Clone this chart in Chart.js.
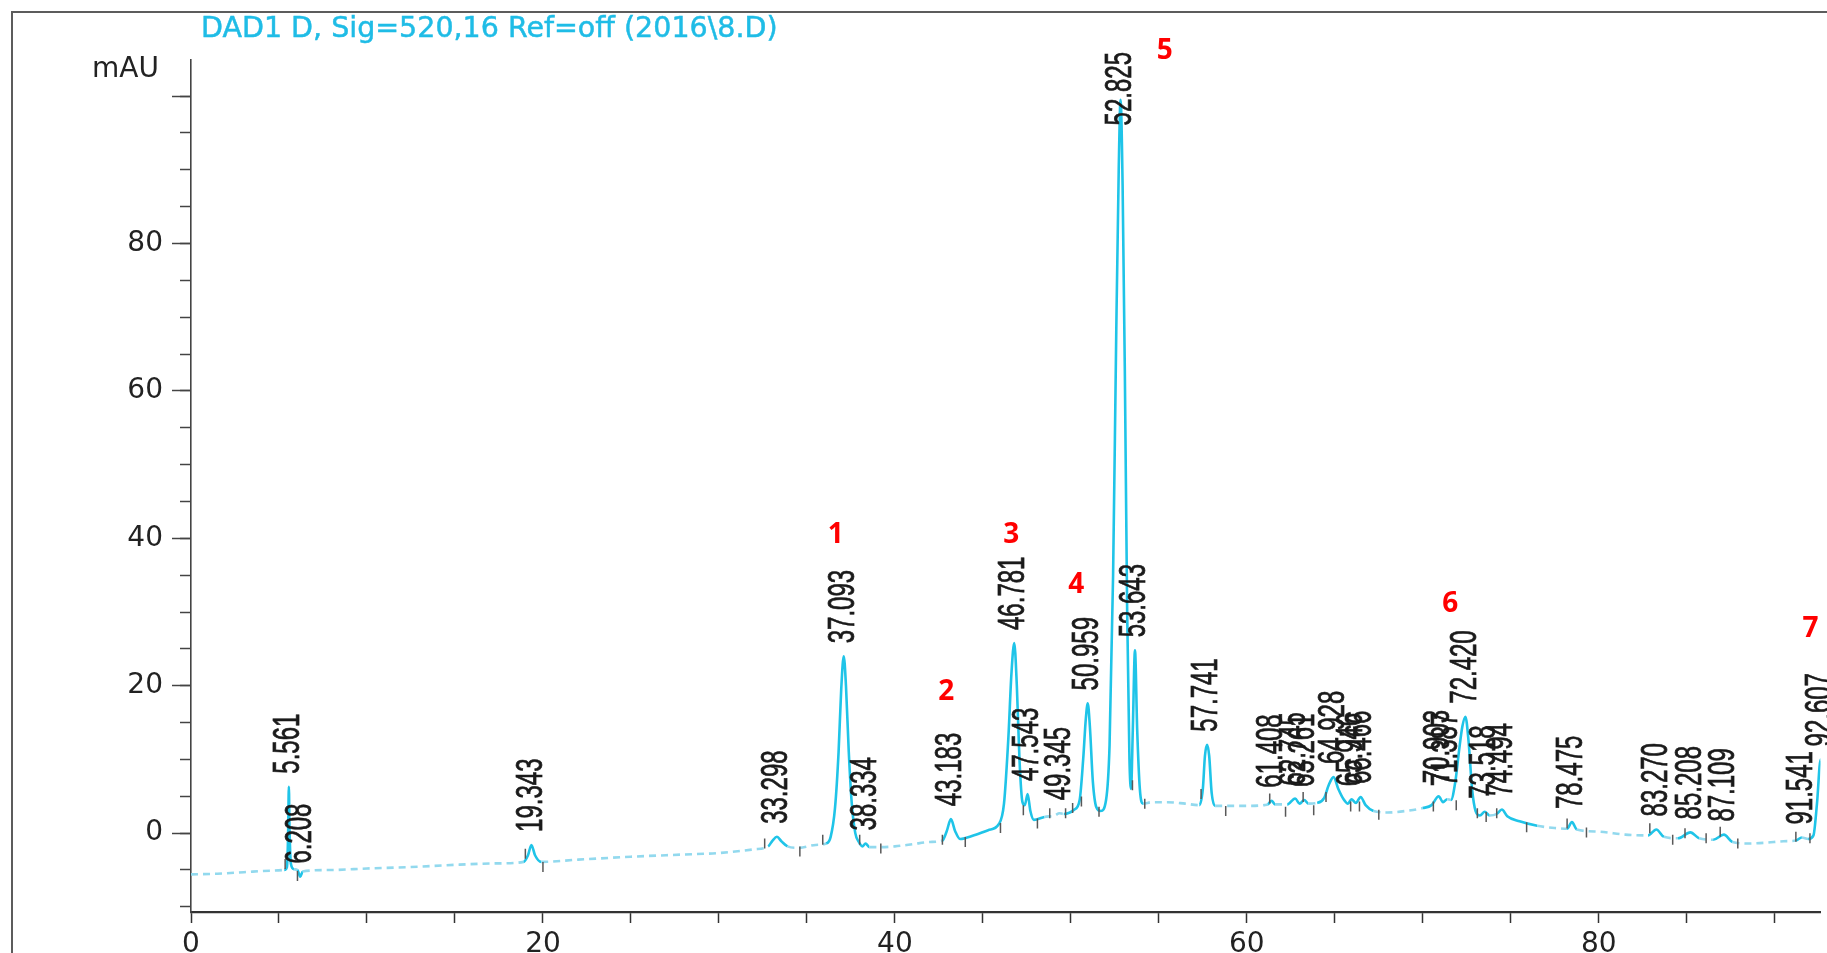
<!DOCTYPE html>
<html>
<head>
<meta charset="utf-8">
<title>DAD1 D, Sig=520,16 Ref=off (2016\8.D)</title>
<script src="https://cdn.jsdelivr.net/npm/chart.js@4.4.1/dist/chart.umd.min.js"></script>
<style>
  html, body { margin: 0; padding: 0; background: #ffffff; }
  #wrap { width: 1827px; height: 953px; position: relative; }
  canvas { display: block; }
</style>
</head>
<body>
<div id="wrap"><canvas id="chrom" width="1827" height="953"></canvas></div>
<script>
// Chromatogram, DAD channel D at 520 nm (run 2016\8.D)
const signalTitle = 'DAD1 D, Sig=520,16 Ref=off (2016\\8.D)';
const unitLabel = 'mAU';

// Integrated peaks: retention time (min) and apex height (mAU)
const retentionTimes = [5.561, 6.208, 19.343, 33.298, 37.093, 38.334, 43.183, 46.781, 47.543, 49.345,
  50.959, 52.825, 53.643, 57.741, 61.408, 62.745, 63.261, 64.928, 65.946, 66.466,
  70.903, 71.387, 72.420, 73.518, 74.494, 78.475, 83.270, 85.208, 87.109, 91.541, 92.607];
const apexHeights = [6.3, -5.9, -1.6, -0.5, 24.0, -1.4, 1.9, 25.8, 5.3, 2.7,
  17.6, 99.5, 24.8, 12.0, 4.4, 4.7, 4.5, 7.6, 4.6, 4.9,
  5.0, 4.6, 15.8, 2.9, 3.2, 1.5, 0.5, 0.1, -0.2, -0.6, 10.0];

// Baseline and peak flanks between the apexes (min, mAU)
const profileTimes = [0.0, 1.5, 3.0, 4.5, 5.3, 5.45, 5.52, 5.60, 5.68, 5.85, 6.05, 6.35, 8.0, 10.0, 12.5, 15.0, 17.5,
  18.9, 19.15, 19.55, 19.9, 22.0, 25.0, 28.0, 30.0, 32.0, 32.8, 33.05, 33.55, 33.9, 34.5, 35.5,
  36.1, 36.35, 36.6, 36.8, 36.95, 37.22, 37.38, 37.55, 37.75, 37.95, 38.15, 38.55, 39.2, 40.0,
  41.0, 42.0, 42.7, 42.95, 43.42, 43.7, 44.5, 45.3, 45.9, 46.2, 46.45, 46.62, 46.93, 47.08,
  47.25, 47.38, 47.7, 47.9, 48.5, 49.1, 49.6, 50.2, 50.5, 50.7, 50.85, 51.08, 51.25, 51.45,
  51.7, 52.0, 52.2, 52.4, 52.58, 52.72, 52.94, 53.07, 53.2, 53.33, 53.42, 53.52, 53.77, 53.92,
  54.1, 54.6, 55.5, 56.5, 57.3, 57.5, 57.62, 57.86, 58.0, 58.2, 59.0, 60.0, 61.0, 61.2, 61.6,
  62.3, 63.0, 63.5, 64.0, 64.4, 64.65, 65.2, 65.5, 65.75, 66.2, 66.75, 67.2, 68.0, 69.0, 70.0,
  70.5, 71.15, 71.6, 71.85, 72.05, 72.25, 72.6, 72.8, 73.0, 73.25, 73.8, 74.2, 74.8, 75.5,
  76.5, 77.5, 78.2, 78.75, 80.0, 81.5, 82.8, 83.7, 84.5, 85.7, 86.5, 87.6, 88.5, 89.5, 90.5,
  91.2, 91.9, 92.2, 92.4, 92.8];
const profileSignal = [-5.6, -5.5, -5.3, -5.1, -5.0, -4.6, 0.0, 0.5, -4.2, -4.9, -5.0, -5.2, -5.0, -4.8, -4.6, -4.3, -4.1,
  -3.9, -3.0, -3.0, -3.9, -3.6, -3.2, -2.9, -2.7, -2.2, -1.8, -1.0, -1.1, -1.8, -2.0, -1.6,
  -1.4, -0.5, 3.5, 11.0, 19.5, 20.0, 11.0, 4.0, 0.0, -1.2, -1.8, -1.9, -1.9, -1.8,
  -1.5, -1.2, -1.0, 0.3, 0.3, -0.8, -0.3, 0.4, 1.2, 4.0, 13.0, 21.5, 20.0, 10.0,
  4.2, 3.8, 3.0, 1.8, 2.2, 2.4, 2.6, 3.2, 4.5, 10.0, 15.5, 14.5, 7.0, 3.5,
  3.0, 4.5, 12.0, 35.0, 68.0, 90.0, 88.0, 62.0, 30.0, 10.0, 6.0, 14.0, 14.0, 6.0,
  4.0, 4.2, 4.2, 4.0, 3.8, 6.0, 10.5, 10.5, 5.5, 3.7, 3.7, 3.7, 3.8, 3.9, 3.9,
  3.9, 4.0, 4.0, 4.1, 4.8, 6.5, 6.0, 4.6, 4.0, 4.1, 3.8, 3.0, 2.8, 3.0, 3.4,
  3.8, 4.2, 4.5, 7.0, 11.0, 14.5, 12.5, 6.0, 3.0, 2.4, 2.4, 2.6, 2.3, 1.6,
  1.0, 0.7, 0.6, 0.5, 0.2, -0.2, -0.3, -0.5, -0.7, -0.7, -0.9, -1.2, -1.4, -1.3, -1.1,
  -1.0, -0.8, -0.3, 4.0, 6.0];

// Peak start/stop markers (min, mAU)
const markTimes = [5.35, 6.05, 19.0, 20.0, 32.6, 34.6, 35.9, 38.0, 39.2, 42.7, 44.0, 46.0, 47.3, 48.1,
  48.8, 49.7, 50.1, 50.6, 51.6, 53.5, 54.2, 57.4, 58.8, 61.3, 62.2, 63.2, 63.8, 64.5, 65.9, 66.4,
  67.5, 70.6, 71.9, 73.1, 73.6, 74.2, 75.9, 78.2, 79.3, 82.9, 84.2, 84.9, 86.1, 86.9, 87.9, 91.2, 92.0];
const markLevels = [-4.2, -5.8, -2.8, -4.6, -1.4, -2.5, -0.9, -0.9, -2.1, -0.9, -1.2, 0.7, 3.1, 1.3,
  2.7, 2.7, 3.4, 4.3, 2.9, 6.5, 4.0, 5.3, 3.0, 4.7, 2.9, 4.9, 3.1, 4.9, 3.6, 3.6,
  2.5, 3.6, 3.8, 2.7, 2.2, 2.7, 0.8, 1.3, 0.1, 0.65, -0.9, 0.0, -0.7, 0.2, -1.4, -0.5, -0.7];

// Peak numbering
const peakNumbers = ['1', '2', '3', '4', '5', '6', '7'];
const peakNumberTimes = [36.64, 42.92, 46.61, 50.31, 55.33, 71.56, 92.03];
const peakNumberLevels = [40.5, 19.1, 40.5, 33.7, 106.1, 31.1, 27.7];

// Axes
const xRange = [0, 92.6];
const yRange = [-10.7, 104.9];
const xTickValues = [0, 5, 10, 15, 20, 25, 30, 35, 40, 45, 50, 55, 60, 65, 70, 75, 80, 85, 90];
const xLabelledTicks = [0, 20, 40, 60, 80];
const yMajorTicks = [0, 20, 40, 60, 80, 100];
const yLabelledTicks = [0, 20, 40, 60, 80];
const yMinorTicks = [-10, -5, 0, 5, 10, 15, 20, 25, 30, 35, 40, 45, 50, 55, 60, 65, 70, 75, 80, 85, 90, 95, 100];

const trace = profileTimes.map((t, i) => ({ x: t, y: profileSignal[i] }))
  .concat(retentionTimes.map((t, i) => ({ x: t, y: apexHeights[i] })))
  .sort((a, b) => a.x - b.x);
const marks = markTimes.map((t, i) => ({ x: t, y: markLevels[i] }));

// Flat stretches of the trace print as a faint broken line, peaks as solid cyan
function onPeak(seg) {
  const dx = Math.abs(seg.p1.x - seg.p0.x);
  const dy = Math.abs(seg.p1.y - seg.p0.y);
  return dy > 2.5 && dy > 0.25 * dx;
}

const chromDecor = {
  id: 'chromDecor',
  beforeDraw(chart) {
    const c = chart.ctx;
    c.save();
    c.fillStyle = '#ffffff';
    c.fillRect(0, 0, chart.width, chart.height);
    c.restore();
  },
  afterDraw(chart) {
    const c = chart.ctx;
    const xs = chart.scales.x;
    const ys = chart.scales.y;
    const area = chart.chartArea;
    c.save();

    // printout frame
    c.strokeStyle = '#5c5c5c';
    c.lineWidth = 2;
    c.beginPath();
    c.moveTo(12, chart.height);
    c.lineTo(12, 12);
    c.lineTo(chart.width, 12);
    c.stroke();

    // signal description
    c.fillStyle = '#1fbce6';
    c.strokeStyle = '#1fbce6';
    c.lineWidth = 0.5;
    c.font = '28.5px "DejaVu Sans"';
    c.textAlign = 'left';
    c.textBaseline = 'alphabetic';
    c.fillText(signalTitle, 201, 37);
    c.strokeText(signalTitle, 201, 37);

    // unit
    c.fillStyle = '#222222';
    c.font = '28px "DejaVu Sans"';
    c.fillText(unitLabel, 92, 77);

    // retention time labels, written upward from just above each apex
    c.font = '24px "Liberation Sans"';
    c.fillStyle = '#1a1a1a';
    c.strokeStyle = '#1a1a1a';
    c.lineWidth = 0.5;
    retentionTimes.forEach((t, i) => {
      const text = t.toFixed(3);
      const px = xs.getPixelForValue(t);
      const apex = ys.getPixelForValue(apexHeights[i]);
      const len = c.measureText(text).width;
      let base = apex - 13;
      if (base - len < area.top - 8) base = area.top - 8 + len;
      c.save();
      c.translate(px, base);
      c.rotate(-Math.PI / 2);
      c.scale(1, 1.55);
      c.textAlign = 'left';
      c.textBaseline = 'middle';
      c.fillText(text, 0, 0);
      c.strokeText(text, 0, 0);
      c.restore();
    });

    // peak numbers
    c.fillStyle = '#ff0000';
    c.font = 'bold 28px "Open Sans"';
    c.textAlign = 'center';
    c.textBaseline = 'middle';
    peakNumbers.forEach((n, i) => {
      c.fillText(n, xs.getPixelForValue(peakNumberTimes[i]), ys.getPixelForValue(peakNumberLevels[i]));
    });
    c.restore();
  }
};

new Chart(document.getElementById('chrom'), {
  type: 'line',
  data: {
    datasets: [
      {
        label: 'DAD1 D',
        data: trace,
        borderColor: '#1fc4e8',
        borderWidth: 2.6,
        pointRadius: 0,
        cubicInterpolationMode: 'monotone',
        segment: {
          borderColor: s => onPeak(s) ? '#1fc4e8' : '#92d9ee',
          borderDash: s => onPeak(s) ? [] : [7, 5]
        },
        order: 2
      },
      {
        label: 'marks',
        data: marks,
        showLine: false,
        pointStyle: 'line',
        rotation: 90,
        pointRadius: 5,
        pointBorderColor: '#585858',
        pointBorderWidth: 1.5,
        order: 1
      }
    ]
  },
  options: {
    responsive: false,
    animation: false,
    devicePixelRatio: 1,
    layout: { padding: { top: 60, right: 0, bottom: 0, left: 0 } },
    plugins: {
      legend: { display: false },
      tooltip: { enabled: false },
      title: { display: false }
    },
    events: [],
    scales: {
      x: {
        type: 'linear',
        position: 'bottom',
        min: xRange[0],
        max: xRange[1],
        afterBuildTicks: s => { s.ticks = xTickValues.map(v => ({ value: v })); },
        afterFit: s => { s.height = 41; },
        grid: { drawOnChartArea: false, drawTicks: true, tickLength: 11, tickColor: '#333333', tickWidth: 1.5 },
        border: { display: true, color: '#333333', width: 2.2 },
        ticks: {
          autoSkip: false,
          maxRotation: 0,
          padding: 5,
          color: '#222222',
          font: { family: '"DejaVu Sans"', size: 28 },
          callback: v => xLabelledTicks.includes(v) ? String(v) : ''
        }
      },
      y: {
        type: 'linear',
        position: 'left',
        weight: 1,
        min: yRange[0],
        max: yRange[1],
        afterBuildTicks: s => { s.ticks = yMajorTicks.map(v => ({ value: v })); },
        afterFit: s => { s.width = 191; },
        grid: { drawOnChartArea: false, drawTicks: true, tickLength: 19, tickColor: '#444444', tickWidth: 1.5 },
        border: { display: true, color: '#444444', width: 1.6 },
        ticks: {
          padding: 9,
          color: '#222222',
          font: { family: '"DejaVu Sans"', size: 28 },
          callback: v => yLabelledTicks.includes(v) ? String(v) : ''
        }
      },
      yMinor: {
        type: 'linear',
        position: 'left',
        weight: 0,
        min: yRange[0],
        max: yRange[1],
        afterBuildTicks: s => { s.ticks = yMinorTicks.map(v => ({ value: v })); },
        afterFit: s => { s.width = 0; },
        grid: { drawOnChartArea: false, drawTicks: true, tickLength: 11, tickColor: '#444444', tickWidth: 1.5 },
        border: { display: false },
        ticks: { display: false }
      }
    }
  },
  plugins: [chromDecor]
});
</script>
</body>
</html>
